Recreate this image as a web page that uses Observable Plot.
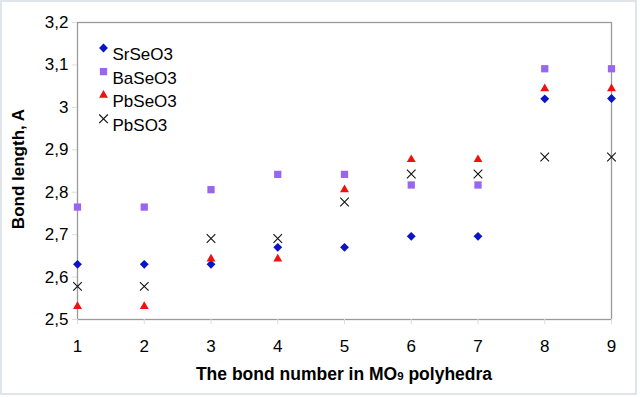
<!DOCTYPE html>
<html>
<head>
<meta charset="utf-8">
<script src="https://cdn.jsdelivr.net/npm/d3@7"></script>
<script src="https://cdn.jsdelivr.net/npm/@observablehq/plot@0.6"></script>
<style>
  html, body { margin: 0; padding: 0; background: #fff; }
  #chart svg { display: block; }
</style>
</head>
<body>
<div id="chart"></div>
<script>
const bondNumbers = [1, 2, 3, 4, 5, 6, 7, 8, 9];
const seriesNames = ["SrSeO3", "BaSeO3", "PbSeO3", "PbSO3"];
const srSeO3 = [2.63, 2.63, 2.63, 2.67, 2.67, 2.696, 2.696, 3.02, 3.021];
const baSeO3 = [2.765, 2.765, 2.806, 2.842, 2.842, 2.817, 2.817, 3.091, 3.091];
const pbSeO3 = [2.531, 2.531, 2.643, 2.643, 2.806, 2.877, 2.877, 3.044, 3.044];
const pbSO3  = [2.578, 2.578, 2.691, 2.691, 2.777, 2.843, 2.843, 2.883, 2.883];
const yTicks = [2.5, 2.6, 2.7, 2.8, 2.9, 3.0, 3.1, 3.2];
const yTickLabels = ["2,5", "2,6", "2,7", "2,8", "2,9", "3", "3,1", "3,2"];

const styles = {
  SrSeO3: {symbol: "diamond2", fill: "#0a14c8", r: 4.0},
  BaSeO3: {symbol: "square", fill: "#9966f0", r: 4.1},
  PbSeO3: {symbol: "triangle", fill: "#f01010", r: 3.3},
  PbSO3:  {symbol: "times", stroke: "#111", r: 4.0}
};
const values = {SrSeO3: srSeO3, BaSeO3: baSeO3, PbSeO3: pbSeO3, PbSO3: pbSO3};

const font = "'Liberation Sans', Arial, sans-serif";

function seriesMarks(name, i) {
  const s = styles[name];
  const data = bondNumbers.map((b, j) => ({x: b, y: values[name][j]}));
  const opts = s.stroke
    ? {symbol: s.symbol, stroke: s.stroke, strokeWidth: 1.1, r: s.r}
    : {symbol: s.symbol, fill: s.fill, r: s.r};
  return [
    Plot.dot(data, {x: "x", y: "y", ...opts}),
    Plot.dot([name], {frameAnchor: "top-left", dx: 26, dy: 25.5 + 23.6 * i, ...opts}),
    Plot.text([name], {frameAnchor: "top-left", dx: 35, dy: 25.5 + 23.6 * i, text: d => d,
      textAnchor: "start", fontSize: 17, fill: "#000", fontFamily: font})
  ];
}

const chart = Plot.plot({
  width: 640,
  height: 397,
  marginLeft: 77,
  marginRight: 29,
  marginTop: 22,
  marginBottom: 78,
  style: {fontFamily: font, background: "transparent"},
  x: {domain: [1, 9]},
  y: {domain: [2.5, 3.2]},
  marks: [
    Plot.frame({stroke: "#9a9a9a", strokeWidth: 1.3}),
    Plot.axisX(bondNumbers, {tickSize: 5, stroke: "#dcdcdc", tickPadding: 15, fontSize: 17,
      fill: "#000", label: null, tickFormat: d => String(d)}),
    Plot.axisY(yTicks, {tickSize: 5, stroke: "#dcdcdc", tickPadding: 4, fontSize: 17,
      fill: "#000", label: null, tickFormat: (d, i) => yTickLabels[i]}),
    ...seriesNames.flatMap(seriesMarks)
  ]
});

const svg = d3.select(chart);
svg.insert("rect", ":first-child")
  .attr("x", 1).attr("y", 1).attr("width", 635).attr("height", 393)
  .attr("fill", "#fff").attr("stroke", "#e0e5ea").attr("stroke-width", 2);

const xt = svg.append("text")
  .attr("x", 344).attr("y", 380)
  .attr("text-anchor", "middle")
  .attr("font-family", font).attr("font-weight", "bold").attr("font-size", 17.5)
  .attr("fill", "#000");
xt.append("tspan").text("The bond number in MO");
xt.append("tspan").attr("font-size", 11.5).text("9");
xt.append("tspan").text(" polyhedra");

svg.append("text")
  .attr("transform", "translate(24,169) rotate(-90)")
  .attr("text-anchor", "middle")
  .attr("font-family", font).attr("font-weight", "bold").attr("font-size", 17)
  .attr("fill", "#000")
  .text("Bond length, A");

document.getElementById("chart").appendChild(chart);
</script>
</body>
</html>
